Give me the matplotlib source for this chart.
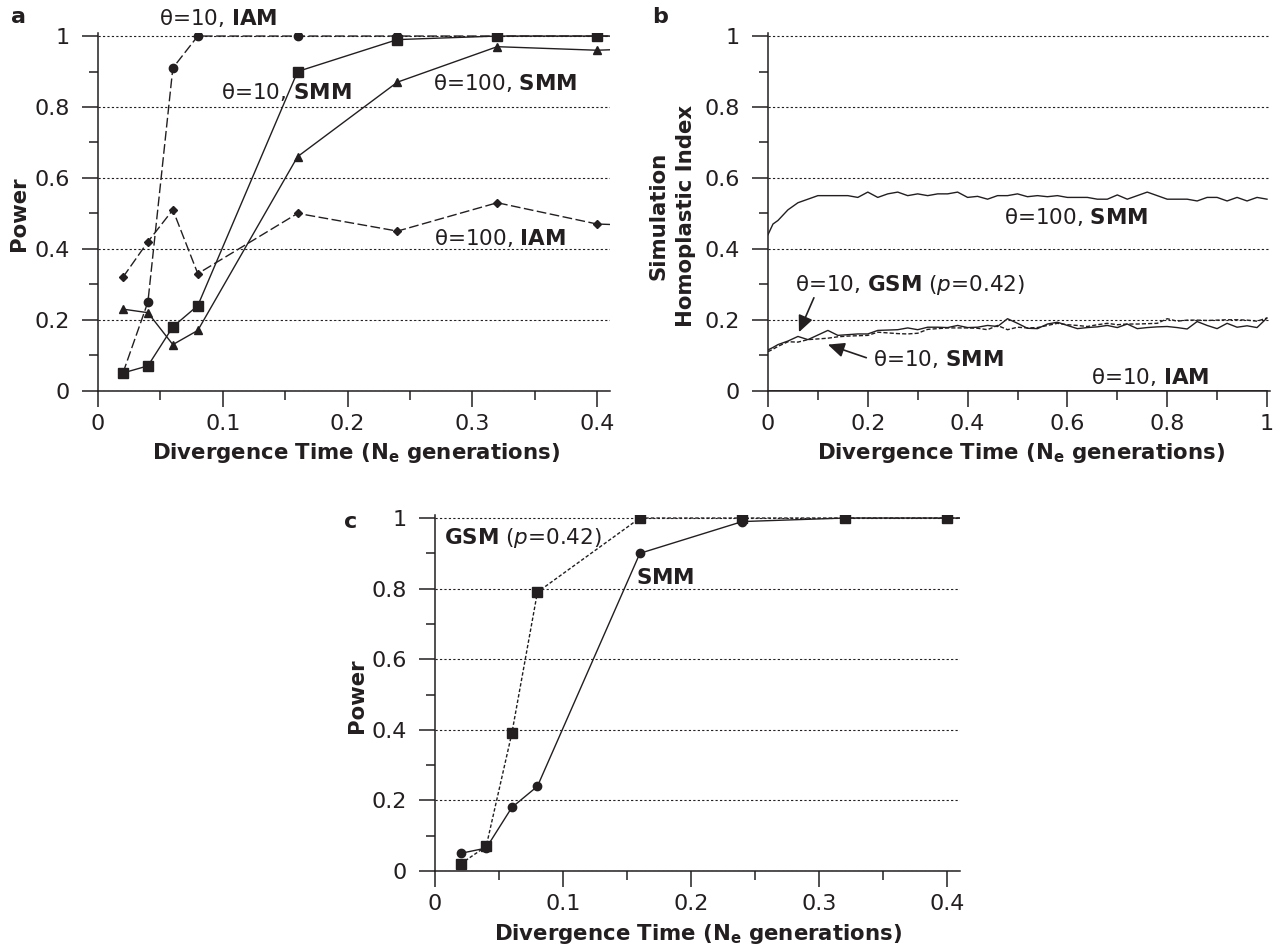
import matplotlib
matplotlib.use("Agg")
import matplotlib.pyplot as plt
import numpy as np

plt.rcParams['font.family'] = ['DejaVu Sans']
plt.rcParams['mathtext.fontset'] = 'dejavusans'

INK = '#231f20'

# ---------------- data ----------------
# Panel a: power vs divergence time
a_time = [0.02, 0.04, 0.06, 0.08, 0.16, 0.24, 0.32, 0.40, 0.48]
a_iam10 = [0.05, 0.25, 0.91, 1.00, 1.00, 1.00, 1.00, 1.00, 1.00]
a_smm10 = [0.05, 0.07, 0.18, 0.24, 0.90, 0.99, 1.00, 1.00, 1.00]
a_smm100 = [0.23, 0.22, 0.13, 0.17, 0.66, 0.87, 0.97, 0.96, 0.97]
a_iam100 = [0.32, 0.42, 0.51, 0.33, 0.50, 0.45, 0.53, 0.47, 0.46]

# Panel b: simulation homoplastic index
b_time = [0.00, 0.01, 0.02, 0.04, 0.06, 0.08, 0.10, 0.12, 0.14, 0.16, 0.18,
          0.20, 0.22, 0.24, 0.26, 0.28, 0.30, 0.32, 0.34, 0.36, 0.38, 0.40,
          0.42, 0.44, 0.46, 0.48, 0.50, 0.52, 0.54, 0.56, 0.58, 0.60, 0.62,
          0.64, 0.66, 0.68, 0.70, 0.72, 0.74, 0.76, 0.78, 0.80, 0.82, 0.84,
          0.86, 0.88, 0.90, 0.92, 0.94, 0.96, 0.98, 1.00]
b_smm100 = [0.44, 0.47, 0.48, 0.51, 0.53, 0.54, 0.55, 0.55, 0.55, 0.55, 0.545,
            0.56, 0.545, 0.555, 0.56, 0.55, 0.555, 0.55, 0.555, 0.555, 0.56, 0.545,
            0.548, 0.54, 0.55, 0.55, 0.555, 0.547, 0.55, 0.547, 0.55, 0.545, 0.545,
            0.545, 0.54, 0.54, 0.552, 0.54, 0.55, 0.56, 0.55, 0.54, 0.54, 0.54,
            0.535, 0.545, 0.545, 0.535, 0.545, 0.535, 0.545, 0.54]
b_gsm10 = [0.115, 0.122, 0.13, 0.14, 0.153, 0.144, 0.157, 0.17, 0.156, 0.158, 0.16,
           0.16, 0.17, 0.171, 0.172, 0.177, 0.172, 0.179, 0.179, 0.178, 0.184, 0.178,
           0.179, 0.184, 0.181, 0.203, 0.19, 0.176, 0.175, 0.188, 0.193, 0.184, 0.175,
           0.178, 0.18, 0.184, 0.178, 0.188, 0.175, 0.178, 0.18, 0.181, 0.178, 0.174,
           0.195, 0.184, 0.175, 0.19, 0.179, 0.183, 0.178, 0.205]
b_smm10 = [0.11, 0.117, 0.125, 0.138, 0.137, 0.144, 0.146, 0.148, 0.152, 0.154, 0.155,
           0.156, 0.165, 0.163, 0.161, 0.16, 0.162, 0.173, 0.175, 0.177, 0.177, 0.177,
           0.176, 0.172, 0.184, 0.172, 0.179, 0.177, 0.178, 0.184, 0.19, 0.186, 0.184,
           0.181, 0.186, 0.19, 0.186, 0.188, 0.188, 0.189, 0.19, 0.203, 0.196, 0.199,
           0.199, 0.198, 0.199, 0.2, 0.2, 0.199, 0.196, 0.205]
b_iam10 = [0.0] * len(b_time)

# Panel c: power, GSM vs SMM
c_time = [0.02, 0.04, 0.06, 0.08, 0.16, 0.24, 0.32, 0.40, 0.48]
c_gsm = [0.02, 0.07, 0.39, 0.79, 1.00, 1.00, 1.00, 1.00, 1.00]
c_smm = [0.05, 0.065, 0.18, 0.24, 0.90, 0.99, 1.00, 1.00, 1.00]

y_ticks = [0, 0.2, 0.4, 0.6, 0.8, 1.0]
y_ticklabels = ['0', '0.2', '0.4', '0.6', '0.8', '1']
y_minor = [0.1, 0.3, 0.5, 0.7, 0.9]
ac_xticks = [0, 0.1, 0.2, 0.3, 0.4]
ac_xticklabels = ['0', '0.1', '0.2', '0.3', '0.4']
ac_xminor = [0.05, 0.15, 0.25, 0.35]
b_xticks = [0, 0.2, 0.4, 0.6, 0.8, 1.0]
b_xticklabels = ['0', '0.2', '0.4', '0.6', '0.8', '1']
b_xminor = [0.1, 0.3, 0.5, 0.7, 0.9]

# ---------------- figure ----------------
W, H = 1281, 949
fig = plt.figure(figsize=(W / 100, H / 100), dpi=100)


def box(l, r, t, b):
    return [l / W, 1 - b / H, (r - l) / W, (b - t) / H]


def fxy(x, y):
    return (x / W, 1 - y / H)


TICKFS = 16
LABFS = 15.3
TXTFS = 15.5


def style_axes(ax, xlim, xticks, xlabels, xminor):
    ax.set_xlim(*xlim)
    ax.set_ylim(0, 1.01)
    for s in ['top', 'right']:
        ax.spines[s].set_visible(False)
    for s in ['left', 'bottom']:
        ax.spines[s].set_linewidth(1.1)
        ax.spines[s].set_color(INK)
    ax.set_yticks(y_ticks)
    ax.set_yticklabels(y_ticklabels)
    ax.set_yticks(y_minor, minor=True)
    ax.set_xticks(xticks)
    ax.set_xticklabels(xlabels)
    ax.set_xticks(xminor, minor=True)
    ax.tick_params(which='major', direction='out', length=11.5, width=1.1,
                   color=INK, labelsize=TICKFS, labelcolor=INK)
    ax.tick_params(which='minor', direction='out', length=6.3, width=1.1, color=INK)
    ax.tick_params(axis='y', which='major', pad=9)
    ax.tick_params(axis='x', which='major', pad=5)
    ax.grid(axis='y', which='major', linestyle=(0, (2, 2)), linewidth=0.8, color=INK)


lw = 1.0

# ---- panel a ----
axa = fig.add_axes(box(98, 609.5, 32.5, 390.7))
style_axes(axa, (0, 0.41), ac_xticks, ac_xticklabels, ac_xminor)
axa.plot(a_time, a_iam100, color=INK, lw=lw, ls=(0, (7, 2.5)), marker='D', ms=4.2, zorder=3)
axa.plot(a_time, a_iam10, color=INK, lw=lw, ls=(0, (7, 2.5)), marker='o', ms=6, zorder=3)
axa.plot(a_time, a_smm100, color=INK, lw=lw, ls='-', marker='^', ms=6, zorder=4)
axa.plot(a_time, a_smm10, color=INK, lw=lw, ls='-', marker='s', ms=7.3, zorder=5)

txt_kw = dict(fontsize=TXTFS, color=INK, ha='center', va='center')
axa.text(0.0965, 1.05, r'θ=10, $\mathbf{IAM}$', clip_on=False, **txt_kw)
axa.text(0.151, 0.842, r'θ=10, $\mathbf{SMM}$', **txt_kw)
axa.text(0.326, 0.867, r'θ=100, $\mathbf{SMM}$', **txt_kw)
axa.text(0.322, 0.43, r'θ=100, $\mathbf{IAM}$', **txt_kw)

# ---- panel b ----
axb = fig.add_axes(box(768, 1269.5, 32.5, 390.7))
style_axes(axb, (0, 1.005), b_xticks, b_xticklabels, b_xminor)
axb.plot(b_time, b_iam10, color=INK, lw=1.2, ls='-', zorder=3)
axb.plot(b_time, b_smm100, color=INK, lw=lw, ls='-', zorder=3)
axb.plot(b_time, b_smm10, color=INK, lw=lw, ls=(0, (3, 1.5)), zorder=3)
axb.plot(b_time, b_gsm10, color=INK, lw=lw, ls='-', zorder=4)

axb.text(0.617, 0.49, r'θ=100, $\mathbf{SMM}$', **txt_kw)
axb.text(0.285, 0.299, r'θ=10, $\mathbf{GSM}$ ($\mathit{p}$=0.42)', **txt_kw)
axb.text(0.342, 0.09, r'θ=10, $\mathbf{SMM}$', **txt_kw)
axb.text(0.765, 0.04, r'θ=10, $\mathbf{IAM}$', **txt_kw)
arr = dict(arrowstyle='-|>,head_length=1.0,head_width=0.45', color=INK, lw=1.2,
           shrinkA=0, shrinkB=0)
axb.annotate('', xy=(0.062, 0.165), xytext=(0.092, 0.262), arrowprops=arr)
axb.annotate('', xy=(0.12, 0.13), xytext=(0.197, 0.093), arrowprops=arr)

# ---- panel c ----
axc = fig.add_axes(box(435, 960, 514.5, 871))
style_axes(axc, (0, 0.41), ac_xticks, ac_xticklabels, ac_xminor)
axc.plot(c_time, c_smm, color=INK, lw=lw, ls='-', marker='o', ms=6, zorder=3)
axc.plot(c_time, c_gsm, color=INK, lw=lw, ls=(0, (2.5, 1.5)), marker='s', ms=7.3, zorder=4)
axc.text(0.069, 0.943, r'$\mathbf{GSM}$ ($\mathit{p}$=0.42)', **txt_kw)
axc.text(0.18, 0.83, r'$\mathbf{SMM}$', **txt_kw)

# ---- axis labels & panel letters ----
xl = r'Divergence Time (N$_{\mathbf{e}}$ generations)'
lab_kw = dict(fontsize=LABFS, fontweight='bold', color=INK, ha='center', va='center')
fig.text(*fxy(356, 453), xl, **lab_kw)
fig.text(*fxy(1021, 453), xl, **lab_kw)
fig.text(*fxy(698, 934), xl, **lab_kw)
fig.text(*fxy(18.6, 214), 'Power', rotation=90, **lab_kw)
fig.text(*fxy(672, 216), 'Simulation\nHomoplastic Index', rotation=90,
         linespacing=1.45, multialignment='center', **lab_kw)
fig.text(*fxy(357, 696), 'Power', rotation=90, **lab_kw)

let_kw = dict(fontsize=16, fontweight='bold', color=INK, ha='center', va='center')
fig.text(*fxy(18, 17), 'a', **let_kw)
fig.text(*fxy(660, 17), 'b', **let_kw)
fig.text(*fxy(351, 522), 'c', **let_kw)

fig.savefig('out.png', dpi=100, facecolor='white')
